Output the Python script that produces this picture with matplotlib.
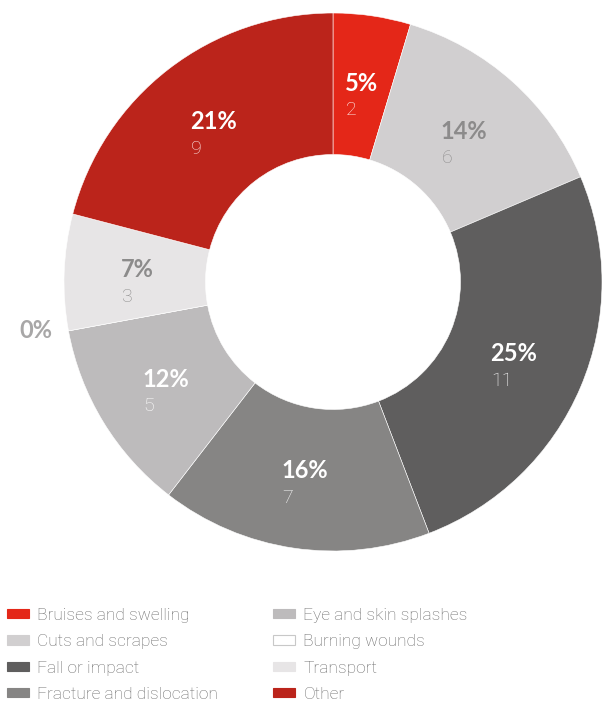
import matplotlib.pyplot as plt
from matplotlib.patches import Patch
import numpy as np

# data
categories = ["Bruises and swelling", "Cuts and scrapes", "Fall or impact",
              "Fracture and dislocation", "Eye and skin splashes", "Burning wounds",
              "Transport", "Other"]
counts = [2, 6, 11, 7, 5, 0, 3, 9]
pct_labels = ["5%", "14%", "25%", "16%", "12%", "0%", "7%", "21%"]

colors = ["#E42718", "#D1CFD0", "#5F5E5E", "#868584", "#BDBBBC", "#FFFFFF",
          "#E7E5E6", "#BB241B"]
pct_colors = ["white", "#8C8B8B", "white", "white", "white", "#A8A7A7",
              "#8C8B8B", "white"]
num_colors = ["#FFF0EE", "#8F8E8E", "white", "white", "white", "#A8A7A7",
              "#8F8E8E", "#FBE6E4"]

W, H = 608, 702
fig = plt.figure(figsize=(W / 100, H / 100), dpi=100)
ax = fig.add_axes([0, 0, 1, 1])

cx, cy = 333, H - 282
R = 269
hole = 127.5

wedges, _ = ax.pie(counts, colors=colors, startangle=90, counterclock=False,
                   center=(cx, cy), radius=R, frame=True,
                   wedgeprops=dict(width=R - hole, edgecolor="white", linewidth=0.4))
ax.set_xlim(0, W)
ax.set_ylim(0, H)
ax.axis("off")

# labels placed at the middle angle of each slice
total = sum(counts)
start = 90.0
fig.canvas.draw()
renderer = fig.canvas.get_renderer()
for i, (c, p) in enumerate(zip(counts, pct_labels)):
    sweep = 360.0 * c / total
    mid = np.radians(start - sweep / 2)
    start -= sweep
    if c == 0:
        r = 300
        x, y = cx + r * np.cos(mid), cy + r * np.sin(mid)
        ax.text(x - 2, y + 6, p, ha="center", va="center", fontsize=17,
                fontweight="bold", family="Lato", color=pct_colors[i])
        continue
    r = 196
    x, y = cx + r * np.cos(mid), cy + r * np.sin(mid)
    t = ax.text(x, y + 5, p, ha="center", va="center", fontsize=17,
                fontweight="bold", family="Lato", color=pct_colors[i])
    bb = t.get_window_extent(renderer)
    ax.text(bb.x0 + 1, y - 22, str(c), ha="left", va="center", fontsize=14,
            fontweight="light", family="Roboto", color=num_colors[i])

# legend
handles = [Patch(facecolor=col, edgecolor=("#C8C8C8" if col == "#FFFFFF" else col),
                 linewidth=0.8) for col in colors]
fig.legend(handles, categories, ncol=2, loc="upper left",
           bbox_to_anchor=(0.0, 1 - 601 / H), frameon=False,
           prop=dict(family="Roboto", weight="light", size=12.5),
           labelcolor="#6A6A6A", handlelength=1.27, handleheight=0.46,
           handletextpad=0.46, labelspacing=0.65, columnspacing=3.2,
           borderaxespad=0.0)

fig.savefig("out.png", dpi=100, facecolor="white")
